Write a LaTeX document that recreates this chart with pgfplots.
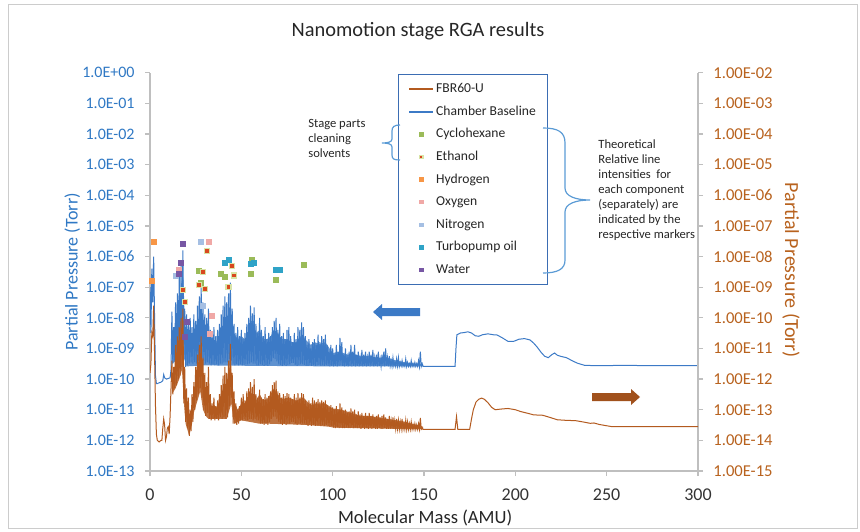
\documentclass[border=0pt]{standalone}
\usepackage{fontspec}
\setmainfont{Carlito}
\usepackage{pgfplots}
\pgfplotsset{compat=1.18}

\definecolor{cbBlue}{HTML}{3C7AC6}
\definecolor{cbBrown}{HTML}{B35A1F}
\definecolor{tkBlue}{HTML}{2F78C4}
\definecolor{tkBrown}{HTML}{B8621E}
\definecolor{axgray}{HTML}{BFBFBF}
\definecolor{legblue}{HTML}{3B6DB3}
\definecolor{cyc}{HTML}{9BBB59}
\definecolor{eth}{HTML}{D9481F}
\definecolor{ethrim}{HTML}{D8E4A6}
\definecolor{hyd}{HTML}{F79646}
\definecolor{oxy}{HTML}{F0A8A6}
\definecolor{nit}{HTML}{A5BFE3}
\definecolor{tpo}{HTML}{2FA3C7}
\definecolor{wat}{HTML}{7757A4}
\definecolor{bracec}{HTML}{5B9BD5}

\pgfplotsset{
  rgaframe/.style={scale only axis, width=274pt, height=199.15pt,
    at={(75pt,30pt)}, anchor=south west, xmin=0, xmax=300},
  rgalines/.style={axis line style={draw=axgray, line width=0.6pt, -},
    tick style={draw=axgray, line width=0.6pt}, tick align=outside,
    major tick length=2.5pt},
  rgamk/.style={only marks, mark=square*, mark size=1.25pt},
}

\begin{document}
\begin{tikzpicture}
\useasboundingbox (0pt,0pt) rectangle (430pt,265.5pt);
\begin{scope}[x=0.5pt,y=-0.5pt,shift={(0pt,265.5pt)}]
  \draw[draw=black!20, line width=0.5pt] (8,5) rectangle (857,528);
  \node[font=\fontsize{10.2}{12}\selectfont, text=black!85] at (418,31) {Nanomotion stage RGA results};
\end{scope}

% Chamber baseline, left axis
\begin{axis}[rgaframe, rgalines, ymode=log, yminorticks=false, ymin=1e-13, ymax=1,
  axis y line*=left, axis x line*=bottom,
  xtick={0,50,100,150,200,250,300},
  xticklabels={0,50,100,150,200,250,300},
  ytick={1e-13,1e-12,1e-11,1e-10,1e-9,1e-8,1e-7,1e-6,1e-5,1e-4,1e-3,1e-2,1e-1,1},
  yticklabels={1.0E-13,1.0E-12,1.0E-11,1.0E-10,1.0E-09,1.0E-08,1.0E-07,1.0E-06,1.0E-05,1.0E-04,1.0E-03,1.0E-02,1.0E-01,1.0E+00},
  yticklabel style={font=\fontsize{8}{9}\selectfont, text=tkBlue, inner sep=0pt},
  yticklabel shift=5pt,
  xticklabel style={font=\fontsize{9}{10}\selectfont, text=black!80, inner sep=0pt},
  xticklabel shift=6pt,
  xlabel={Molecular Mass (AMU)},
  xlabel style={at={(axis description cs:0.502,-0.118)}, anchor=center,
    font=\fontsize{9.3}{11}\selectfont, text=black!85},
  ylabel={Partial Pressure (Torr)},
  ylabel style={at={(axis description cs:-0.142,0.5)}, anchor=center,
    font=\fontsize{9}{10}\selectfont, text=tkBlue},
]
% dense core of the spectrum (upper edge, then lower edge back)
\addplot[fill=cbBlue!82!white, draw=none] coordinates {
(12,5.0e-9) (13,2.5e-9) (14,7.9e-9) (15,1.6e-8) (16,4.0e-8) (17,1.0e-7) (17.6,3.2e-7) (18.4,1.6e-7)
(19,6.3e-9) (20,2.5e-9) (22,2.0e-9) (24,3.2e-9) (26,6.3e-9) (27,1.3e-8) (28,2.5e-8) (29,1.0e-8)
(30,3.2e-9) (32,3.2e-9) (34,2.0e-9) (36,1.6e-9) (38,2.5e-9) (40,5.0e-9) (42,7.9e-9) (43,1.6e-8)
(44,2.5e-8) (45,5.0e-9) (46,3.2e-9) (48,2.0e-9) (50,2.5e-9) (52,2.0e-9) (54,4.0e-9) (55,7.9e-9)
(57,7.9e-9) (58,3.2e-9) (60,4.0e-9) (62,2.0e-9) (64,2.0e-9) (66,2.5e-9) (68,4.0e-9) (70,3.2e-9)
(72,2.0e-9) (75,2.0e-9) (78,1.6e-9) (80,1.6e-9) (83,2.8e-9) (85,2.0e-9) (88,1.3e-9) (90,1.6e-9)
(93,1.4e-9) (96,1.6e-9) (100,7.1e-10) (104,7.9e-10) (108,6.3e-10) (112,6.3e-10) (116,5.6e-10)
(120,5.6e-10) (125,5.0e-10) (130,5.0e-10) (135,4.0e-10) (140,3.5e-10) (149.5,3.0e-10)
(149.5,2.6e-10) (100,2.6e-10) (60,2.7e-10) (30,2.8e-10) (20,2.6e-10) (18.5,5.0e-10) (17.5,6.3e-10)
(16,4.5e-10) (12,3.2e-10)
};
\addplot[cbBlue, line width=0.5pt] coordinates {
(0,1.0e-7) (0.5,3.2e-9) (1,4.0e-7) (1.5,3.2e-8) (2,1.0e-6) (2.5,1.0e-8) (3,1.3e-10) (3.5,7.1e-11)
(4,7.1e-11) (5,7.6e-11) (6,7.9e-11) (7,8.9e-11) (7.5,1.4e-10) (8,1.1e-10) (9,1.0e-10) (10,1.05e-10) (11,1.1e-10) (11.5,2.0e-10)
(12,1.6e-8) (12.5,3.2e-10) (13,5.0e-9) (13.5,4.0e-10) (14,3.2e-8) (14.5,4.5e-10) (15,6.3e-8) (15.5,5.0e-10)
(16,2.5e-7) (16.5,6.3e-10) (17,5.0e-7) (17.5,1.0e-9) (18,1.6e-6) (18.5,6.3e-10) (19,2.0e-8) (19.5,2.5e-10)
(20,1.3e-8) (20.5,2.8e-10) (21,6.3e-9) (21.5,3.2e-10) (22,1.0e-8) (22.5,3.5e-10) (23,5.0e-9) (23.5,3.2e-10)
(24,1.3e-8) (24.5,3.5e-10) (25,7.9e-9) (25.5,3.2e-10) (26,2.5e-8) (26.5,4.0e-10) (27,5.0e-8) (27.5,5.0e-10)
(28,1.1e-7) (28.5,5.0e-10) (29,3.2e-8) (29.5,4.0e-10) (30,1.3e-8) (30.5,3.2e-10) (31,1.0e-8) (31.5,3.5e-10)
(32,2.0e-8) (32.5,3.2e-10) (33,4.0e-9) (33.5,2.8e-10) (34,3.2e-9) (34.5,3.0e-10) (35,5.0e-9) (35.5,2.8e-10)
(36,2.5e-9) (36.5,3.0e-10) (37,4.0e-9) (37.5,2.8e-10) (38,6.3e-9) (38.5,3.2e-10) (39,1.3e-8) (39.5,3.2e-10)
(40,2.5e-8) (40.5,3.5e-10) (41,5.0e-8) (41.5,3.5e-10) (42,3.2e-8) (42.5,3.5e-10) (43,6.3e-8) (43.5,4.5e-10)
(44,1.4e-7) (44.5,4.0e-10) (45,2.0e-8) (45.5,3.2e-10) (46,6.3e-9) (46.5,2.8e-10) (47,3.2e-9) (47.5,3.0e-10)
(48,5.0e-9) (48.5,2.8e-10) (49,2.5e-9) (49.5,3.0e-10) (50,4.0e-9) (50.5,2.8e-10) (51,2.0e-9) (51.5,2.8e-10)
(52,3.2e-9) (52.5,3.0e-10) (53,6.3e-9) (53.5,3.0e-10) (54,1.0e-8) (54.5,3.2e-10) (55,2.5e-8) (55.5,3.5e-10)
(56,1.4e-8) (56.5,3.2e-10) (57,2.2e-8) (57.5,3.2e-10) (58,6.3e-9) (58.5,2.8e-10) (59,3.2e-9) (59.5,2.8e-10)
(60,1.0e-8) (60.5,3.0e-10) (61,4.0e-9) (61.5,2.9e-10) (62,2.5e-9) (62.5,2.7e-10) (63,5.0e-9) (63.5,2.9e-10)
(64,2.0e-9) (64.5,2.7e-10) (65,3.2e-9) (65.5,3.0e-10) (66,2.5e-9) (66.5,3.8e-10) (67,5.0e-9) (67.5,4.8e-10)
(68,7.9e-9) (68.5,4.5e-10) (69,1.0e-8) (69.5,3.8e-10) (70,4.0e-9) (70.5,3.0e-10) (71,6.3e-9) (71.5,2.9e-10)
(72,2.5e-9) (72.5,2.7e-10) (73,3.2e-9) (73.5,2.9e-10) (74,2.0e-9) (74.5,2.7e-10) (75,4.0e-9) (75.5,2.9e-10)
(76,5.0e-9) (76.5,3.0e-10) (77,2.5e-9) (77.5,3.4e-10) (78,1.6e-9) (78.5,3.4e-10) (79,3.2e-9) (79.5,2.9e-10)
(80,2.0e-9) (80.5,2.7e-10) (81,5.0e-9) (81.5,2.9e-10) (82,4.0e-9) (82.5,3.0e-10) (83,7.1e-9) (83.5,3.0e-10)
(84,5.0e-9) (84.5,2.9e-10) (85,2.5e-9) (85.5,2.7e-10) (86,1.3e-9) (86.5,2.7e-10) (87,2.0e-9) (87.5,2.8e-10)
(88,1.0e-9) (88.5,2.7e-10) (89,1.6e-9) (89.5,2.8e-10) (90,2.0e-9) (90.5,2.7e-10) (91,1.3e-9) (91.5,2.8e-10)
(92,2.8e-9) (92.5,2.9e-10) (93,1.6e-9) (93.5,2.7e-10) (94,2.5e-9) (94.5,2.8e-10) (95,2.0e-9) (95.5,2.7e-10)
(96,2.8e-9) (96.5,2.8e-10) (97,1.3e-9) (97.5,2.7e-10) (98,7.9e-10) (98.5,2.6e-10) (99,1.3e-9) (99.5,2.7e-10)
(100,1.0e-9) (100.5,2.6e-10) (101,6.3e-10) (101.5,2.7e-10) (102,1.3e-9) (102.5,2.6e-10) (103,7.9e-10) (103.5,2.7e-10)
(104,2.2e-9) (104.5,2.8e-10) (105,1.6e-9) (105.5,2.7e-10) (106,6.3e-10) (106.5,2.6e-10) (107,1.0e-9) (107.5,2.7e-10)
(108,5.0e-10) (108.5,2.6e-10) (109,7.9e-10) (109.5,2.7e-10) (110,1.3e-9) (110.5,2.6e-10) (111,7.9e-10) (111.5,2.7e-10)
(112,1.3e-9) (112.5,2.6e-10) (113,6.3e-10) (113.5,2.7e-10) (114,7.9e-10) (114.5,2.6e-10) (115,5.0e-10) (115.5,2.7e-10)
(116,8.9e-10) (116.5,2.6e-10) (117,6.3e-10) (117.5,2.7e-10) (118,7.9e-10) (118.5,2.6e-10) (119,5.0e-10) (119.5,2.7e-10)
(120,7.9e-10) (120.5,2.6e-10) (121,6.3e-10) (121.5,2.7e-10) (122,8.9e-10) (122.5,2.6e-10) (123,5.0e-10) (123.5,2.7e-10)
(124,6.3e-10) (124.5,2.6e-10) (125,7.9e-10) (125.5,2.7e-10) (126,4.5e-10) (126.5,2.6e-10) (127,6.3e-10) (127.5,2.7e-10)
(128,7.9e-10) (128.5,2.6e-10) (129,1.0e-9) (129.5,2.7e-10) (130,5.0e-10) (130.5,2.6e-10) (131,5.6e-10) (131.5,2.7e-10)
(132,4.0e-10) (132.5,2.6e-10) (133,5.0e-10) (133.5,2.7e-10) (134,3.5e-10) (134.5,2.6e-10) (135,4.5e-10) (135.5,2.7e-10)
(136,5.0e-10) (136.5,2.6e-10) (137,3.5e-10) (137.5,2.7e-10) (138,4.0e-10) (138.5,2.6e-10) (139,3.2e-10) (139.5,2.6e-10)
(140,4.5e-10) (140.5,2.6e-10) (141,3.5e-10) (141.5,2.6e-10) (142,3.2e-10) (142.5,2.6e-10) (143,4.0e-10) (143.5,2.6e-10)
(144,3.2e-10) (144.5,2.6e-10) (145,3.5e-10) (145.5,2.6e-10) (146,3.2e-10) (146.5,2.6e-10) (147,4.0e-10) (147.5,2.6e-10)
(148,7.9e-10) (148.5,2.6e-10) (149,3.2e-10) (149.5,2.6e-10)
(150,2.6e-10) (160,2.6e-10) (167,2.6e-10) (167.5,1.0e-9) (168,2.8e-9) (170,3.2e-9) (172,3.3e-9) (174,3.5e-9)
(176,3.2e-9) (178,2.6e-9) (180,2.5e-9) (182,2.8e-9) (185,3.0e-9) (188,2.8e-9) (190,2.75e-9) (193,2.2e-9)
(196,1.7e-9) (199,1.7e-9) (202,2.0e-9) (205,2.1e-9) (208,1.9e-9) (210,1.5e-9) (212,1.1e-9) (214,7.6e-10)
(216,5.6e-10) (218,5.0e-10) (220,6.3e-10) (221.5,7.1e-10) (223,6.0e-10) (225,5.5e-10) (228,5.0e-10) (231,4.0e-10)
(234,3.3e-10) (238,2.8e-10) (245,2.75e-10) (260,2.8e-10) (275,2.75e-10) (300,2.75e-10)
};
\end{axis}

% FBR60-U, right axis
\begin{axis}[rgaframe, rgalines, ymode=log, yminorticks=false, ymin=1e-15, ymax=1e-2,
  axis y line*=right, axis x line=none,
  ytick={1e-15,1e-14,1e-13,1e-12,1e-11,1e-10,1e-9,1e-8,1e-7,1e-6,1e-5,1e-4,1e-3,1e-2},
  yticklabels={1.00E-15,1.00E-14,1.00E-13,1.00E-12,1.00E-11,1.00E-10,1.00E-09,1.00E-08,1.00E-07,1.00E-06,1.00E-05,1.00E-04,1.00E-03,1.00E-02},
  yticklabel style={font=\fontsize{8.3}{9}\selectfont, text=tkBrown, inner sep=0pt},
  yticklabel shift=5pt,
  ylabel={Partial Pressure (Torr)},
  ylabel style={at={(axis description cs:1.170,0.504)}, anchor=center, rotate=180,
    font=\fontsize{10}{12}\selectfont, text=tkBrown},
]
% dense core of the spectrum (upper edge, then lower edge back)
\addplot[fill=cbBrown!85!white, draw=none] coordinates {
(12,1.0e-12) (13,6.3e-13) (14,2.5e-12) (15,5.0e-12) (16,1.0e-11) (17,2.0e-11) (17.6,4.0e-11) (18.4,1.3e-11)
(19,3.2e-13) (20,7.9e-14) (22,3.2e-14) (23,6.3e-14) (24,1.3e-13) (25,4.0e-13) (26,1.0e-12) (27,2.5e-12)
(28,5.0e-12) (29,1.3e-12) (30,5.0e-13) (32,3.2e-13) (34,1.0e-13) (36,1.0e-13) (38,2.0e-13) (40,5.0e-13)
(42,7.9e-13) (43,1.6e-12) (44,4.0e-12) (45,6.3e-13) (46,2.0e-13) (48,1.0e-13) (50,1.6e-13) (52,1.6e-13)
(54,2.5e-13) (56,3.2e-13) (58,2.0e-13) (60,3.2e-13) (62,2.0e-13) (64,2.2e-13) (66,3.2e-13) (68,5.0e-13)
(70,3.2e-13) (72,2.2e-13) (76,2.5e-13) (80,2.0e-13) (84,2.5e-13) (88,1.4e-13) (92,1.6e-13) (96,1.6e-13)
(100,1.1e-13) (105,1.0e-13) (110,7.9e-14) (115,6.3e-14) (120,6.3e-14) (130,5.0e-14) (140,4.0e-14) (149.5,2.8e-14)
(149.5,2.3e-14) (100.5,2.6e-14) (98,2.8e-14) (85,3.2e-14) (65,3.5e-14) (60,3.5e-14) (50,4.5e-14) (46,3.5e-14)
(44.5,1.6e-13) (43.5,1.0e-13) (42,5.0e-14) (32,5.0e-14) (30.5,6.3e-14) (29,1.0e-13) (27.5,4.0e-13) (25.5,1.6e-13)
(24,8.0e-14) (23,3.5e-14) (21.5,1.4e-14) (19.5,3.5e-14) (18.6,1.6e-13) (17.5,2.0e-12) (16,1.0e-12) (14,5.0e-13)
(12,3.2e-13)
};
\addplot[cbBrown, line width=0.5pt] coordinates {
(0,1.6e-12) (0.5,3.2e-12) (1,3.2e-11) (1.5,2.5e-11) (2,2.5e-10) (2.5,6.3e-12) (3,1.3e-13) (3.5,1.6e-14)
(4,1.0e-14) (5,8.9e-15) (6,1.0e-14) (6.5,1.0e-14) (7,2.5e-14) (7.5,5.0e-14) (8,3.2e-14) (8.5,1.0e-14)
(9,1.3e-14) (9.5,2.5e-14) (10,2.8e-14) (10.5,1.6e-14) (11,6.3e-14) (11.5,5.0e-13)
(12,4.0e-12) (12.5,3.2e-13) (13,2.5e-12) (13.5,5.0e-13) (14,1.3e-11) (14.5,6.3e-13) (15,2.5e-11) (15.5,1.0e-12)
(16,5.0e-11) (16.5,1.3e-12) (17,1.0e-10) (17.5,2.5e-12) (18,2.0e-10) (18.5,1.6e-13) (19,2.5e-12) (19.5,4.0e-14)
(20,5.0e-13) (20.5,2.5e-14) (21,2.5e-13) (21.5,1.4e-14) (22,1.0e-13) (22.5,2.0e-14) (23,3.2e-13) (23.5,4.0e-14)
(24,7.9e-13) (24.5,1.0e-13) (25,2.5e-12) (25.5,2.0e-13) (26,6.3e-12) (26.5,3.2e-13) (27,1.3e-11) (27.5,5.0e-13)
(28,2.5e-11) (28.5,2.5e-13) (29,5.0e-12) (29.5,1.0e-13) (30,1.6e-12) (30.5,6.3e-14) (31,7.9e-13) (31.5,7.9e-14)
(32,2.5e-12) (32.5,5.0e-14) (33,3.2e-13) (33.5,4.5e-14) (34,1.6e-13) (34.5,5.0e-14) (35,2.5e-13) (35.5,4.5e-14)
(36,1.3e-13) (36.5,5.0e-14) (37,2.0e-13) (37.5,4.5e-14) (38,3.2e-13) (38.5,5.6e-14) (39,6.3e-13) (39.5,5.0e-14)
(40,1.3e-12) (40.5,5.6e-14) (41,2.5e-12) (41.5,5.0e-14) (42,1.6e-12) (42.5,5.6e-14) (43,4.0e-12) (43.5,1.3e-13)
(44,1.4e-11) (44.5,2.5e-13) (45,1.6e-12) (45.5,3.5e-14) (46,4.0e-13) (46.5,3.5e-14) (47,1.6e-13) (47.5,3.2e-14)
(48,1.0e-13) (48.5,3.5e-14) (49,1.3e-13) (49.5,4.5e-14) (50,2.5e-13) (50.5,4.5e-14) (51,3.2e-13) (51.5,5.0e-14)
(52,2.0e-13) (52.5,4.5e-14) (53,4.0e-13) (53.5,4.5e-14) (54,5.0e-13) (54.5,5.0e-14) (55,7.9e-13) (55.5,5.0e-14)
(56,5.6e-13) (56.5,4.5e-14) (57,1.0e-12) (57.5,5.0e-14) (58,3.2e-13) (58.5,4.5e-14) (59,2.5e-13) (59.5,4.5e-14)
(60,4.5e-13) (60.5,3.5e-14) (61,2.5e-13) (61.5,3.5e-14) (62,2.2e-13) (62.5,3.2e-14) (63,3.2e-13) (63.5,3.5e-14)
(64,2.5e-13) (64.5,3.2e-14) (65,2.8e-13) (65.5,4.0e-14) (66,4.0e-13) (66.5,5.0e-14) (67,6.3e-13) (67.5,6.0e-14)
(68,7.9e-13) (68.5,6.0e-14) (69,8.9e-13) (69.5,5.0e-14) (70,4.0e-13) (70.5,4.0e-14) (71,3.5e-13) (71.5,3.5e-14)
(72,2.5e-13) (72.5,3.2e-14) (73,3.2e-13) (73.5,3.5e-14) (74,2.8e-13) (74.5,3.2e-14) (75,3.5e-13) (75.5,3.5e-14)
(76,3.2e-13) (76.5,3.5e-14) (77,2.5e-13) (77.5,4.0e-14) (78,2.2e-13) (78.5,4.0e-14) (79,3.2e-13) (79.5,3.5e-14)
(80,2.5e-13) (80.5,3.2e-14) (81,3.5e-13) (81.5,3.5e-14) (82,2.5e-13) (82.5,3.5e-14) (83,3.5e-13) (83.5,3.5e-14)
(84,3.2e-13) (84.5,3.5e-14) (85,2.0e-13) (85.5,3.2e-14) (86,1.6e-13) (86.5,3.0e-14) (87,2.0e-13) (87.5,3.2e-14)
(88,1.6e-13) (88.5,3.0e-14) (89,2.5e-13) (89.5,3.2e-14) (90,2.0e-13) (90.5,3.0e-14) (91,1.8e-13) (91.5,3.2e-14)
(92,2.2e-13) (92.5,3.2e-14) (93,1.8e-13) (93.5,3.0e-14) (94,2.0e-13) (94.5,3.2e-14) (95,1.8e-13) (95.5,3.0e-14)
(96,2.0e-13) (96.5,3.2e-14) (97,1.4e-13) (97.5,3.0e-14) (98,1.2e-13) (98.5,2.8e-14) (99,1.4e-13) (99.5,3.0e-14)
(100,1.2e-13) (100.5,2.6e-14) (101,1.0e-13) (101.5,2.5e-14) (102,1.3e-13) (102.5,2.6e-14) (103,1.0e-13) (103.5,2.5e-14)
(104,1.6e-13) (104.5,2.7e-14) (105,1.2e-13) (105.5,2.5e-14) (106,9.0e-14) (106.5,2.5e-14) (107,1.0e-13) (107.5,2.6e-14)
(108,7.9e-14) (108.5,2.5e-14) (109,8.9e-14) (109.5,2.5e-14) (110,1.1e-13) (110.5,2.6e-14) (111,8.9e-14) (111.5,2.5e-14)
(112,1.0e-13) (112.5,2.6e-14) (113,7.1e-14) (113.5,2.5e-14) (114,8.9e-14) (114.5,2.5e-14) (115,7.1e-14) (115.5,2.4e-14)
(116,7.9e-14) (116.5,2.5e-14) (117,6.3e-14) (117.5,2.4e-14) (118,7.9e-14) (118.5,2.5e-14) (119,6.3e-14) (119.5,2.4e-14)
(120,7.9e-14) (120.5,2.5e-14) (121,6.3e-14) (121.5,2.4e-14) (122,7.1e-14) (122.5,2.5e-14) (123,5.6e-14) (123.5,2.4e-14)
(124,6.3e-14) (124.5,2.4e-14) (125,7.1e-14) (125.5,2.5e-14) (126,5.6e-14) (126.5,2.4e-14) (127,6.3e-14) (127.5,2.4e-14)
(128,7.1e-14) (128.5,2.5e-14) (129,5.6e-14) (129.5,2.4e-14) (130,5.0e-14) (130.5,2.4e-14) (131,6.3e-14) (131.5,2.4e-14)
(132,4.5e-14) (132.5,2.4e-14) (133,5.6e-14) (133.5,2.4e-14) (134,4.5e-14) (134.5,2.4e-14) (135,5.0e-14) (135.5,2.4e-14)
(136,4.5e-14) (136.5,2.3e-14) (137,4.0e-14) (137.5,2.4e-14) (138,5.0e-14) (138.5,2.3e-14) (139,3.5e-14) (139.5,2.3e-14)
(140,4.5e-14) (140.5,2.3e-14) (141,4.0e-14) (141.5,2.3e-14) (142,3.5e-14) (142.5,2.3e-14) (143,4.0e-14) (143.5,2.3e-14)
(144,3.2e-14) (144.5,2.3e-14) (145,3.5e-14) (145.5,2.3e-14) (146,3.2e-14) (146.5,2.3e-14) (147,3.5e-14) (147.5,2.3e-14)
(148,5.4e-14) (148.5,2.3e-14) (149,2.5e-14) (149.5,2.3e-14)
(150,2.3e-14) (160,2.3e-14) (167,2.3e-14) (167.8,6.0e-14) (168.5,2.3e-14) (175,2.3e-14) (176,5.0e-14) (177,1.0e-13)
(178.5,1.8e-13) (180,2.2e-13) (181.5,2.4e-13) (183,2.2e-13) (185,1.7e-13) (187,1.2e-13) (189,1.0e-13) (192,1.05e-13)
(196,1.1e-13) (200,1.0e-13) (203,8.7e-14) (207,7.6e-14) (210,6.8e-14) (215,6.6e-14) (219,5.6e-14) (223,4.7e-14)
(228,4.5e-14) (233,4.4e-14) (237,4.0e-14) (241,3.6e-14) (243,3.7e-14) (246,3.3e-14) (250,3.0e-14) (253,2.8e-14)
(300,2.8e-14)
};
\end{axis}

% theoretical line intensities and legend
\begin{axis}[rgaframe, ymode=log, ymin=1e-13, ymax=1, hide axis,
  legend image code/.code={\draw[mark repeat=2,mark phase=2,#1]
    plot coordinates {(0pt,0pt) (6pt,0pt) (12pt,0pt)};},
  legend image post style={mark size=0.8pt},
  legend cell align=left,
  legend style={at={(axis description cs:0.4526,0.9967)}, anchor=north west,
    draw=legblue, line width=0.6pt, fill=white,
    font=\fontsize{6.8}{8}\selectfont, text=black!85,
    inner xsep=5pt, inner ysep=4pt, row sep=4.8pt,
    nodes={text height=5pt, text depth=1.5pt, inner ysep=0pt, inner xsep=1pt}},
]
\addlegendimage{cbBrown, line width=0.8pt}
\addlegendentry{FBR60-U}
\addlegendimage{cbBlue, line width=0.8pt}
\addlegendentry{Chamber Baseline}
\addplot[rgamk, draw=cyc, fill=cyc] coordinates {
(27,3.4e-7) (28,1.4e-7) (39,2.7e-7) (41,2.2e-7) (55,2.7e-7) (56,7.6e-7) (69,1.7e-7) (84,5.3e-7)};
\addlegendentry{Cyclohexane}
\addplot[rgamk, draw=ethrim, fill=eth, mark options={line width=0.6pt}] coordinates {
(18,8.1e-8) (19,3.2e-8) (27,1.2e-7) (29,3.2e-7) (30,8.7e-8) (31,1.5e-6) (43,1.0e-7) (45,4.8e-7) (46,2.4e-7)};
\addlegendentry{Ethanol}
\addplot[rgamk, draw=hyd, fill=hyd] coordinates {(1,1.6e-7) (2,3.1e-6)};
\addlegendentry{Hydrogen}
\addplot[rgamk, draw=oxy, fill=oxy] coordinates {(16,3.7e-7) (32,3.0e-6) (33,2.9e-9) (34,1.15e-8)};
\addlegendentry{Oxygen}
\addplot[rgamk, draw=nit, fill=nit] coordinates {(14,2.3e-7) (28,3.0e-6) (29,2.4e-8)};
\addlegendentry{Nitrogen}
\addplot[rgamk, draw=tpo, fill=tpo] coordinates {(41,6.0e-7) (43,7.7e-7) (55,5.6e-7) (57,6.3e-7) (69,3.8e-7) (71,3.8e-7)};
\addlegendentry{Turbopump oil}
\addplot[rgamk, draw=wat, fill=wat] coordinates {(16,2.8e-7) (17,6.0e-7) (18,2.6e-6) (19,2.3e-9) (20,7.5e-9)};
\addlegendentry{Water}
\end{axis}

% notes, braces and arrows (pixel grid of the reference)
\begin{scope}[x=0.5pt,y=-0.5pt,shift={(0pt,265.5pt)}]
  \draw[bracec, line width=0.6pt] (400,125) .. controls (394,125) and (392,127) .. (392,131)
    -- (392,139) .. controls (392,142) and (388,143) .. (382,143)
    .. controls (388,143) and (392,144) .. (392,147) -- (392,155)
    .. controls (392,159) and (394,160) .. (400,160);
  \draw[bracec, line width=0.6pt] (543,128) .. controls (558,128) and (565,132) .. (565,143)
    -- (565,188) .. controls (565,196) and (575,200) .. (590,200)
    .. controls (575,200) and (565,204) .. (565,212) -- (565,260)
    .. controls (565,269) and (558,273) .. (543,273);
  \node[anchor=north west, inner sep=0pt, align=left, text=black!85,
    font=\fontsize{6.3}{7.5}\selectfont] at (308,119) {Stage parts\\cleaning\\solvents};
  \node[anchor=north west, inner sep=0pt, align=left, text=black!85,
    font=\fontsize{6.3}{7.5}\selectfont] at (598,139)
    {Theoretical\\Relative line\\intensities~ for\\each component\\(separately) are\\indicated by the\\respective markers};
  \fill[cbBlue] (420,308) -- (382,308) -- (382,304) -- (373,312) -- (382,320) -- (382,316) -- (420,316) -- cycle;
  \fill[cbBrown!90!black] (592,393) -- (631,393) -- (631,389) -- (640,397) -- (631,405) -- (631,401) -- (592,401) -- cycle;
\end{scope}
\end{tikzpicture}
\end{document}
